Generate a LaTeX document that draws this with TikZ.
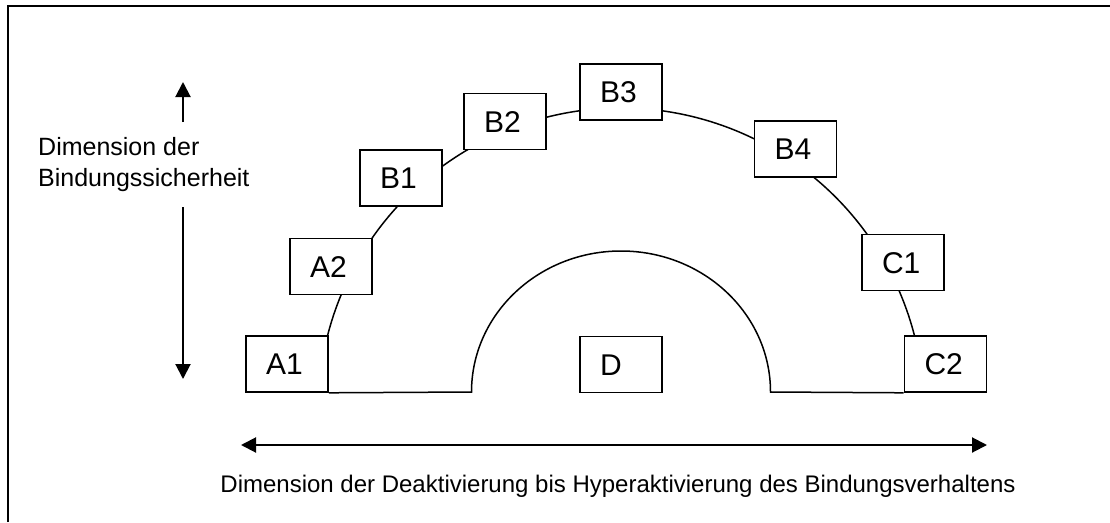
\documentclass[tikz,border=0pt]{standalone}
\usepackage{fontspec}
\setmainfont{Liberation Sans}
\usetikzlibrary{arrows.meta,backgrounds}
\begin{document}
\begin{tikzpicture}[x=1pt,y=-1pt,
  >={Triangle[length=15pt,width=15pt]},
  box/.style={draw,line width=1.6pt,fill=white,minimum width=82pt,minimum height=56pt,
    text width=42pt,inner xsep=20pt,inner ysep=0pt,align=left,
    text height=21.5pt,text depth=0pt,font=\fontsize{30}{35}\selectfont},
  curve/.style={line width=1.5pt},
  arr/.style={line width=2pt},
  lbl/.style={font=\fontsize{24}{31}\selectfont,inner sep=0pt}]
\useasboundingbox (0,0) rectangle (1110,522);
% frame
\draw[line width=2pt] (8,522) -- (8,6) -- (1110,6);
% boxes
\node[box] (A1) at (287,364) {A1};
\node[box] (A2) at (331,266.5) {A2};
\node[box] (B1) at (401,178) {B1};
\node[box] (B2) at (505,121.5) {B2};
\node[box] (B3) at (621,92) {B3};
\node[box] (B4) at (795.5,149) {B4};
\node[box] (C1) at (903,262.5) {C1};
\node[box] (C2) at (945.5,364) {C2};
\node[box] (D) at (621,364.5) {D};
% arcs behind boxes
\begin{scope}[on background layer]
\draw[curve] ([shift={(621,411)}]194.33:303) arc[start angle=194.33,end angle=345.67,radius=303];
\draw[curve] (A1.south east) -- (471.5,392)
  arc[start angle=180,end angle=360,x radius=149.5,y radius=141] -- (C2.south west);
\end{scope}
% vertical arrows
\coordinate (uptop) at (183,82);
\coordinate (upbot) at (183,122);
\draw[arr,->] (upbot) -- (uptop);
\coordinate (dntop) at (183,207);
\coordinate (dnbot) at (183,379);
\draw[arr,->] (dntop) -- (dnbot);
% horizontal arrow
\coordinate (hl) at (241,445);
\coordinate (hr) at (987,445);
\draw[arr,<->] (hl) -- (hr);
% labels
\node[lbl,font=\fontsize{25}{31}\selectfont,anchor=base west,align=left] (ly) at (38,186) {Dimension der\\Bindungssicherheit};
\node[lbl,anchor=base] (lx) at (618,492.7) {Dimension der Deaktivierung bis Hyperaktivierung des Bindungsverhaltens};
\end{tikzpicture}
\end{document}
